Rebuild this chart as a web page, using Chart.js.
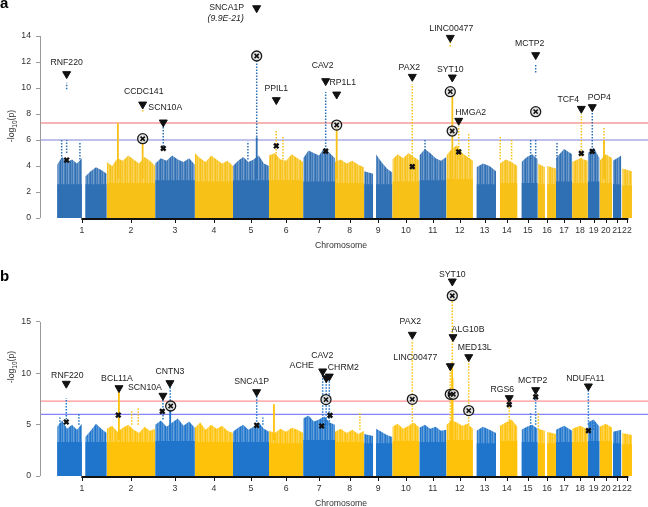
<!DOCTYPE html>
<html>
<head>
<meta charset="utf-8">
<script src="https://cdn.jsdelivr.net/npm/chart.js@4.4.0/dist/chart.umd.min.js"></script>
<style>
  html, body { margin: 0; padding: 0; background: #fff; }
  #wrap { position: relative; width: 648px; height: 507px; }
  canvas { position: absolute; left: 0; }
  #cA { top: 0; }
  #cB { top: 250px; }
</style>
</head>
<body>
<div id="wrap">
  <canvas id="cA" width="648" height="250"></canvas>
  <canvas id="cB" width="648" height="257"></canvas>
</div>
<script>
// chromosome sizes (Mb) and covered stretches (Mb within chromosome)
const chromLen = [249.3, 243.2, 198.0, 191.2, 180.9, 171.1, 159.1, 146.4, 141.2, 135.5, 135.0,
                  133.9, 115.2, 107.3, 102.5, 90.4, 81.2, 78.1, 59.1, 63.0, 48.1, 51.3];
const chromLabels = ["1","2","3","4","5","6","7","8","9","10","11","12","13","14","15","16","17","18","19","20","21","22"];
const coverage = [
  [[1,125],[142,249]], [[0,243]], [[0,198]], [[0,191]], [[0,181]], [[0,171]], [[0,159]], [[0,146]],
  [[0,45],[59,141]], [[0,135]], [[0,135]], [[0,133]], [[17,115]], [[19,107]], [[20,101]],
  [[0,35],[46,90]], [[0,81]], [[0,78]], [[0,59]], [[0,63]], [[4,46]], [[2,51]]
];
const thresholds = [7.3, 6];

// ---- panel a ----
const baseA = [2.6,2.7,2.9,2.8,2.9,2.9,2.8,2.7,2.6,2.8,2.9,3.0,2.6,2.7,2.7,2.6,2.8,2.7,2.8,2.7,2.6,2.5];
const envA = [
  [[4.1,4.7,4.3,4.5,4.2,4.6],[3.2,3.6,3.9,3.7,3.4]],
  [[4.3,4.0,4.6,4.4,4.8,4.5,4.2,4.7,4.4,4.0]],
  [[4.2,4.6,4.4,4.8,4.5,4.3,4.6,4.1]],
  [[5.0,4.6,4.3,4.8,4.5,4.2,4.4,4.0]],
  [[4.0,4.4,4.7,4.3,4.5,4.8,4.2,4.0]],
  [[4.8,5.0,4.5,4.4,4.9,4.6,4.3]],
  [[4.6,5.2,5.0,4.8,5.4,5.0,4.6]],
  [[4.3,4.5,4.2,4.4,4.1,3.9]],
  [[3.6,3.4],[4.9,4.3,3.8,3.5]],
  [[4.5,4.9,4.6,5.0,4.7,4.4]],
  [[4.8,5.3,5.0,4.6,4.4,4.7]],
  [[4.8,5.3,5.6,5.0,4.7,4.4]],
  [[3.9,4.2,4.0,3.6]],
  [[4.2,4.5,4.3,4.0]],
  [[4.3,4.7,4.9,4.5]],
  [[4.2,3.9],[4.0,3.8]],
  [[4.6,5.3,4.9]],
  [[4.3,4.6,4.4]],
  [[5.0,5.4,4.6]],
  [[4.4,4.9,4.6]],
  [[4.4,4.8]],
  [[3.8,3.6]]
];
// [chr, Mb, low, high]
const columnsA = [[2,56,3,7.3],[2,180,3,6.0],[5,119,3,6.2],[8,8.6,3,7.2],[12,30,3,9.5],[20,22,3,6.0]];
const dotsA = [[1,48.6,5,6.0],[1,48.6,9.9,10.4],[1,23.5,4.5,6.0],[1,115,4.5,5.8],[2,180,8.2,8.5],
  [3,40,5.5,7.1],[5,119,6,12.2],[5,75,4.5,5.9],[6,36,4.5,6.8],[6,70,4.5,6.3],[7,112.6,5,9.7],
  [10,100,4.5,10.3],[11,28,4.5,6.0],[12,19.7,13.2,13.6],[12,62,4.5,7.1],[12,112,4.5,6.5],
  [14,21,4.5,6.3],[14,78,4.5,6.0],[15,91,4.5,6.0],[15,91,11.2,11.8],[15,66,4.5,6.0],[17,5,4.5,5.8],
  [18,46,4.5,8.0],[19,22.5,4.5,8.2],[20,22,4.5,7.0]];
const geneA = ["RNF220","CCDC141","SCN10A","SNCA1P","PPIL1","CAV2","RP1L1","PAX2","LINC00477","SYT10","HMGA2","MCTP2","TCF4","POP4"];
const geneChrA = [1,2,3,5,6,7,8,10,12,12,12,15,18,19];
const genePosA = [48.6,180.1,40.1,118.9,36.2,112.6,8.6,99.9,19.7,29.8,61.8,91.2,45.6,22.5];
const geneLogPA = [11.08,8.74,7.36,16.15,9.08,10.54,9.51,10.87,13.87,10.82,7.49,12.54,8.41,8.54];
const offScaleNoteA = ["SNCA1P", "(9.9E-21)"];
const circA = [[2,180.1,6.1],[5,118.9,12.46],[8,8.6,7.15],[12,19.7,9.72],[12,29.2,6.69],[15,91.2,8.18]];
const crossA = [[1,48.6,4.46],[3,40.1,5.36],[6,36.2,5.54],[7,112.6,5.15],[10,99.9,3.95],[12,61.8,5.08],[18,45.6,4.97],[19,22.5,5.13]];

// ---- panel b ----
const baseB = [3.3,3.3,3.4,3.3,3.3,3.2,3.5,3.3,3.2,3.4,3.3,3.5,3.2,3.4,3.3,3.2,3.3,3.3,3.4,3.4,3.2,3.1];
const envB = [
  [[4.8,5.4,4.6,5.0,4.5,5.1],[3.8,4.4,5.1,4.6,4.2]],
  [[4.6,4.9,4.3,4.7,5.0,4.5,4.2,4.8,4.4,4.6]],
  [[5.0,5.4,4.8,5.2,5.6,4.9,5.3,4.7]],
  [[4.7,5.2,4.5,5.0,4.6,4.9,4.4,4.2]],
  [[4.3,4.7,5.0,4.5,4.8,5.2,4.6,4.3]],
  [[4.4,4.2,4.6,4.3,4.7,4.5,4.2]],
  [[5.6,5.9,5.3,5.5,5.8,5.2,5.0]],
  [[4.3,4.6,4.2,4.5,4.1,4.4]],
  [[4.1,3.9],[4.6,4.3,4.0,3.8]],
  [[4.8,5.1,4.6,4.9,5.2,4.7]],
  [[4.7,5.0,4.6,4.8,4.4,4.5]],
  [[5.0,5.4,5.2,4.9,5.1,4.6]],
  [[4.4,4.8,4.5,4.2]],
  [[4.9,5.2,5.5,4.8]],
  [[4.5,4.8,5.0,4.6]],
  [[4.6,4.4],[4.3,4.1]],
  [[4.5,4.9,4.4]],
  [[4.6,4.9,4.5]],
  [[5.2,5.5,4.8]],
  [[4.8,5.1,4.7]],
  [[4.3,4.5]],
  [[4.2,4.0]]
];
const columnsB = [[2,61,3.5,8.5],[3,75,3.5,6.5],[6,24.5,3.5,7.0],[12,29,3.5,11],[12,31,3.5,9.5]];
const dotsB = [[1,46.7,5.5,7.6],[1,15,5,5.7],[1,110,5,6.1],[2,125,5,6.4],[2,158,5,6.7],
  [3,38.5,5.5,7.7],[3,75,5,9.0],[5,119,5,8.0],[5,150,5,5.7],[7,97.6,5,10.0],[7,115,5,9.4],
  [7,130.7,5,9.6],[8,125,4.5,6.1],[10,100,5,13.2],[12,30,11,17.2],[12,19.7,5,10.3],[12,112,5,11.2],
  [14,66,4.5,6.8],[15,91,5,7.6],[15,66,4.5,6.1],[16,2,4.5,6.1],[19,3,5,8.3],[19,27.5,4.5,5.4]];
const geneB = ["RNF220","BCL11A","SCN10A","CNTN3","SNCA1P","ACHE","CAV2","CHRM2","PAX2","LINC00477","SYT10","ALG10B","MED13L","RGS6","MCTP2","NDUFA11"];
const geneChrB = [1,2,3,3,5,7,7,7,10,12,12,12,12,14,15,19];
const genePosB = [46.7,61.4,38.5,73.5,118.9,97.6,115.6,130.7,99.9,19.7,29.8,33.3,112.1,66,91.2,3];
const geneLogPB = [9.0,8.57,7.83,9.06,8.18,10.2,9.54,9.7,13.77,10.71,18.96,13.54,11.59,7.6,8.38,8.74];
const circB = [[3,77.2,6.82],[7,114.1,7.44],[10,99.9,7.47],[12,19.7,7.96],[12,29.8,17.56],[12,34.7,7.96],[12,112.1,6.37]];
const crossB = [[1,46.7,5.26],[2,57.9,5.94],[3,35.1,6.3],[5,118.9,4.94],[7,92.6,4.87],[7,134.2,5.91],[14,66,6.95],[15,91.2,7.7],[19,3,4.42]];

// label placement (px offset from the triangle)
const labelOffsetA = [[0,-11],[1,-13],[2,-15],[-30,0],[0,-11],[-3,-15],[6,-12],[-3,-9],[1,-9],[-2,-8],[12,-8],[-6,-11],[-13,-9],[7,-9]];
const labelOffsetB = [[1,-8],[-2,-9],[-18,-8],[0,-11],[-5,-10],[-21,-6],[-4,-22],[14,-9],[-2,-13],[-35,-8],[0,-7],[15,-7],[6,-9],[-7,-8],[-3,-9],[-3,-8]];

const FAM = '"Liberation Sans", Arial, sans-serif';
const chromStart = [];
let acc = 0;
chromLen.forEach(l => { chromStart.push(acc); acc += l; });
const gpos = (c, mb) => chromStart[c - 1] + mb;

function fade(hex, a) {
  const n = parseInt(hex.slice(1), 16);
  return `rgba(${n >> 16},${(n >> 8) & 255},${n & 255},${a})`;
}

// streaky fill for the scattered upper part of each chromosome block
function streaks(hex) {
  const c = document.createElement('canvas');
  c.width = 5; c.height = 1;
  const g = c.getContext('2d');
  [1, 0.78, 0.93, 0.68, 0.86].forEach((a, i) => { g.fillStyle = fade(hex, a); g.fillRect(i, 0, 1, 1); });
  return g.createPattern(c, 'repeat');
}

function makePanel(p) {
  const colOf = c => (c % 2 === 1 ? p.blue : p.yellow);
  const pat = { [p.blue]: streaks(p.blue), [p.yellow]: streaks(p.yellow) };
  const ds = [];
  coverage.forEach((segs, i) => {
    const c = i + 1, col = colOf(c);
    segs.forEach((seg, k) => {
      const h = p.env[i][k];
      const pts = h.map((v, j) => ({ x: gpos(c, seg[0] + (seg[1] - seg[0]) * j / (h.length - 1)), y: v }));
      ds.push({ data: pts, fill: 'origin', backgroundColor: pat[col], borderWidth: 0, borderColor: 'transparent', pointRadius: 0, order: 20 });
      ds.push({ data: [{ x: gpos(c, seg[0]), y: p.base[i] }, { x: gpos(c, seg[1]), y: p.base[i] }],
        fill: 'origin', backgroundColor: col, borderWidth: 0, borderColor: 'transparent', pointRadius: 0, order: 19 });
    });
  });
  p.columns.forEach(([c, pos, lo, hi]) => ds.push({
    data: [{ x: gpos(c, pos), y: lo }, { x: gpos(c, pos), y: hi }], borderColor: colOf(c), borderWidth: 1.8,
    pointRadius: 0, fill: false, order: 10, clip: false }));
  p.dots.forEach(([c, pos, lo, hi]) => ds.push({
    data: [{ x: gpos(c, pos), y: lo }, { x: gpos(c, pos), y: hi }], borderColor: colOf(c), borderWidth: 1.5,
    borderDash: [1.5, 1.5], pointRadius: 0, fill: false, order: 11, clip: false }));
  const pt = arr => arr.map(([c, pos, v]) => ({ x: gpos(c, pos), y: v }));
  ds.push({ data: pt(p.circ), showLine: false, pointStyle: 'circle', pointRadius: 5, pointBackgroundColor: 'rgba(225,225,225,0.85)',
    pointBorderColor: '#1a1a1a', pointBorderWidth: 1.3, order: 3, clip: false });
  ds.push({ data: pt(p.circ), showLine: false, pointStyle: 'crossRot', pointRadius: 3, pointBorderColor: '#111',
    pointBorderWidth: 1.6, order: 2, clip: false });
  ds.push({ data: pt(p.cross), showLine: false, pointStyle: 'crossRot', pointRadius: 3.2, pointBorderColor: '#111',
    pointBorderWidth: 2.4, order: 2, clip: false });
  const tri = p.genes.map((g, i) => ({ x: gpos(p.geneChr[i], p.genePos[i]), y: p.logP[i] }));
  ds.push({ data: tri, showLine: false, pointStyle: 'triangle', pointRotation: 180, pointRadius: 4.6,
    pointBackgroundColor: '#111', pointBorderColor: '#111', pointBorderWidth: 1, order: 1, clip: false });

  const ppu = (p.bottom - p.axisTopPx) / p.axisMax;
  const padTop = p.bottom - ppu * p.yTop;

  const decor = {
    id: 'decor',
    beforeDatasetsDraw(chart) {
      const ctx = chart.ctx, ys = chart.scales.y, ca = chart.chartArea;
      ctx.save();
      thresholds.forEach((t, i) => {
        const y = ys.getPixelForValue(t);
        ctx.strokeStyle = p.thrColors[i];
        ctx.lineWidth = p.thrWidth;
        ctx.beginPath(); ctx.moveTo(ca.left + 1, y); ctx.lineTo(chart.width, y); ctx.stroke();
      });
      // y axis line, only up to the last labelled tick
      ctx.strokeStyle = '#9a9a9a';
      ctx.lineWidth = 1;
      ctx.beginPath();
      ctx.moveTo(ca.left + 0.5, ys.getPixelForValue(0));
      ctx.lineTo(ca.left + 0.5, ys.getPixelForValue(p.axisMax));
      ctx.stroke();
      ctx.restore();
    },
    afterDatasetsDraw(chart) {
      const ctx = chart.ctx, xs = chart.scales.x, ys = chart.scales.y;
      ctx.save();
      ctx.fillStyle = '#222';
      ctx.textAlign = 'center';
      ctx.textBaseline = 'middle';
      p.genes.forEach((g, i) => {
        const px = xs.getPixelForValue(tri[i].x), py = ys.getPixelForValue(tri[i].y);
        const [dx, dy] = p.offsets[i];
        ctx.font = `8.7px ${FAM}`;
        ctx.fillText(g, px + dx, py + dy);
        if (p.note && p.note[0] === g) {
          ctx.font = `italic 8.7px ${FAM}`;
          ctx.fillText(p.note[1], px + dx - 1, py + dy + 10.6);
        }
      });
      ctx.restore();
    },
    afterDraw(chart) {
      const ctx = chart.ctx, xs = chart.scales.x, ca = chart.chartArea;
      ctx.save();
      const yb = ca.bottom + 1;
      const centers = chromLen.map((l, i) => xs.getPixelForValue(chromStart[i] + l / 2));
      ctx.strokeStyle = '#111';
      ctx.lineWidth = 2;
      ctx.beginPath(); ctx.moveTo(centers[0] - 0.5, yb); ctx.lineTo(centers[21] + 1.5, yb); ctx.stroke();
      ctx.lineWidth = 1;
      ctx.fillStyle = '#333';
      ctx.font = `8.7px ${FAM}`;
      ctx.textAlign = 'center';
      ctx.textBaseline = 'middle';
      centers.forEach((cx, i) => {
        const x = Math.round(cx) + 0.5;
        ctx.beginPath(); ctx.moveTo(x, yb); ctx.lineTo(x, yb + 4); ctx.stroke();
        ctx.fillText(chromLabels[i], cx, yb + 12);
      });
      ctx.fillText('Chromosome', (ca.left + ca.right) / 2 + 5, yb + 27);
      // y title with subscript
      ctx.translate(12, p.yTitleY);
      ctx.rotate(-Math.PI / 2);
      ctx.textAlign = 'left';
      ctx.textBaseline = 'middle';
      ctx.font = `8.7px ${FAM}`;
      const w1 = ctx.measureText('-log').width, w3 = ctx.measureText('(p)').width;
      ctx.font = `6.5px ${FAM}`;
      const w2 = ctx.measureText('10').width;
      const x0 = -(w1 + w2 + w3) / 2;
      ctx.font = `8.7px ${FAM}`;
      ctx.fillText('-log', x0, 0);
      ctx.font = `6.5px ${FAM}`;
      ctx.fillText('10', x0 + w1, 3);
      ctx.font = `8.7px ${FAM}`;
      ctx.fillText('(p)', x0 + w1 + w2, 0);
      ctx.setTransform(1, 0, 0, 1, 0, 0);
      ctx.fillStyle = '#000';
      ctx.font = `bold 15px ${FAM}`;
      ctx.textAlign = 'left';
      ctx.textBaseline = 'alphabetic';
      ctx.fillText(p.letter, 0, p.letterY);
      ctx.restore();
    }
  };

  const chart = new Chart(document.getElementById(p.id), {
    type: 'line',
    data: { datasets: ds },
    options: {
      responsive: false,
      animation: false,
      events: [],
      devicePixelRatio: 1,
      layout: { padding: { left: 0, right: 16, top: padTop, bottom: p.height - p.bottom } },
      plugins: { legend: { display: false }, tooltip: { enabled: false } },
      scales: {
        x: { type: 'linear', min: -85, max: acc, display: false },
        y: {
          type: 'linear', min: 0, max: p.yTop,
          afterBuildTicks(s) { s.ticks = s.ticks.filter(t => t.value <= p.axisMax + 1e-9); },
          ticks: { stepSize: p.yStep, color: '#333', font: { family: FAM, size: 8.7 }, padding: 5 },
          grid: { display: true, drawOnChartArea: false, drawTicks: true, tickLength: 4, color: '#9a9a9a' },
          border: { display: false },
          afterFit(s) { s.width = 40; }
        }
      }
    },
    plugins: [decor]
  });
  // keep the pixel scale of the reference: fix the bottom, then stretch max to the real top
  const ca = chart.chartArea;
  chart.options.layout.padding.bottom += ca.bottom - p.bottom;
  chart.options.scales.y.max = (p.bottom - ca.top) / ppu;
  chart.update();
  return chart;
}

makePanel({
  id: 'cA', height: 250, bottom: 218, axisTopPx: 36, letter: 'a', letterY: 8, blue: '#2f6fb4', yellow: '#f7c117',
  axisMax: 14, yTop: 16.3, yStep: 2, thrColors: ['rgba(240,130,130,0.6)', 'rgba(150,150,225,0.6)'], thrWidth: 2,
  yTitleY: 126, base: baseA, env: envA, columns: columnsA, dots: dotsA, genes: geneA, geneChr: geneChrA,
  genePos: genePosA, logP: geneLogPA, circ: circA, cross: crossA, offsets: labelOffsetA, note: offScaleNoteA
});
makePanel({
  id: 'cB', height: 257, bottom: 226, axisTopPx: 72, letter: 'b', letterY: 31, blue: '#1f74cb', yellow: '#ffc20a',
  axisMax: 15, yTop: 19.5, yStep: 5, thrColors: ['rgba(255,120,120,0.8)', 'rgba(110,110,245,0.85)'], thrWidth: 1.3,
  yTitleY: 117, base: baseB, env: envB, columns: columnsB, dots: dotsB, genes: geneB, geneChr: geneChrB,
  genePos: genePosB, logP: geneLogPB, circ: circB, cross: crossB, offsets: labelOffsetB, note: null
});
</script>
</body>
</html>
